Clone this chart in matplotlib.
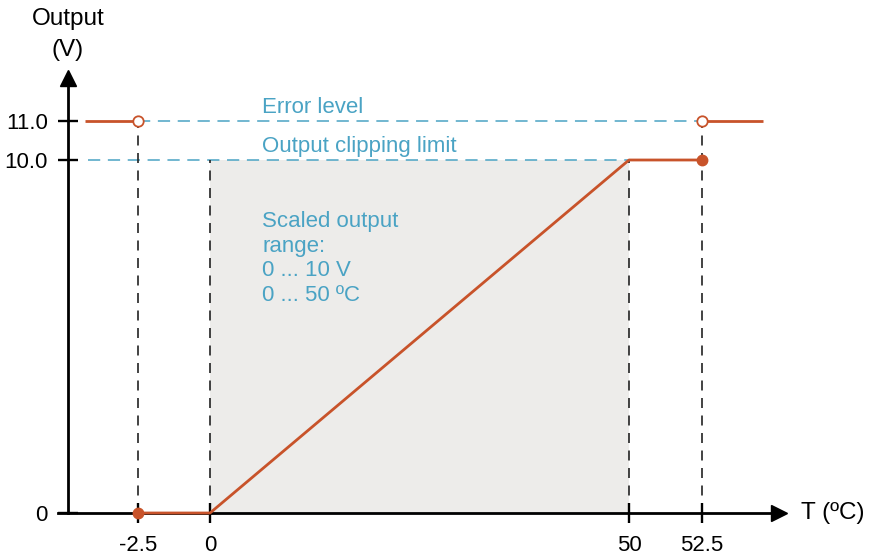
import numpy as np
import matplotlib.pyplot as plt

plt.rcParams.update({
    "font.family": "Liberation Sans",
    "font.size": 16,
})

T_ticks = [-2.5, 0, 50, 52.5]
T_tick_labels = ["-2.5", "0", "50", "52.5"]
V_ticks = [0, 10, 11]
V_tick_labels = ["0", "10.0", "11.0"]

# output characteristic (T in degC, output in V)
T_main = [-2.5, 0, 50, 52.5]
V_main = [0, 0, 10, 10]
T_err_left = [-4.35, -2.5]
T_err_right = [52.5, 54.6]
V_err = [11, 11]
T_scaled = [0, 50]
V_scaled_max = 10
V_error_level = 11
V_clip = 10

orange = "#C8532A"
blue = "#4AA3C4"
grey = "#EDECEA"

# schematic (non-uniform) axis: data value -> pixel position
x_knots_T = [-2.5 - 138 / 28.8, -2.5, 0, 50, 52.5, 52.5 + 173 / 29.2]
x_knots_px = [0, 138, 210, 629, 702, 875]
y_knots_V = [-44 / 35.3, 0, 10, 11, 11 + 121 / 39.0]
y_knots_px = [0, 44, 397, 436, 557]

def fwd_x(t):
    return np.interp(t, x_knots_T, x_knots_px)

def inv_x(p):
    return np.interp(p, x_knots_px, x_knots_T)

def fwd_y(v):
    return np.interp(v, y_knots_V, y_knots_px)

def inv_y(p):
    return np.interp(p, y_knots_px, y_knots_V)

def px_x(p):
    return float(inv_x(p))

def px_y(p):
    # p counted from the top of the picture
    return float(inv_y(557 - p))

fig = plt.figure(figsize=(8.75, 5.57), dpi=100)
ax = fig.add_axes([0, 0, 1, 1])
ax.set_xscale("function", functions=(fwd_x, inv_x))
ax.set_yscale("function", functions=(fwd_y, inv_y))
ax.set_xlim(x_knots_T[0], x_knots_T[-1])
ax.set_ylim(y_knots_V[0], y_knots_V[-1])
ax.patch.set_visible(False)

# axes with arrows
x_axis_pos = px_x(68)
for s in ["top", "right"]:
    ax.spines[s].set_visible(False)
ax.spines["left"].set_position(("data", x_axis_pos))
ax.spines["left"].set_bounds(0, px_y(80))
ax.spines["bottom"].set_position(("data", 0))
ax.spines["bottom"].set_bounds(px_x(58), px_x(776))
for s in ["left", "bottom"]:
    ax.spines[s].set_linewidth(2.0)
ax.plot([x_axis_pos], [px_y(78)], marker="^", ms=11.5, color="black", clip_on=False)
ax.plot([px_x(779)], [0], marker=">", ms=11.5, color="black", clip_on=False)

ax.set_xticks(T_ticks, labels=T_tick_labels)
ax.set_yticks(V_ticks, labels=V_tick_labels)
ax.tick_params(axis="x", direction="inout", length=15, width=1.7, pad=8.5, labelsize=16)
ax.tick_params(axis="y", direction="inout", length=15, width=1.7, pad=7, labelsize=16)

# scaled output range
ax.fill_between(T_scaled, 0, V_scaled_max, color=grey, lw=0, zorder=0)

# reference lines
ax.plot([T_main[0], T_main[-1]], [V_error_level, V_error_level], color=blue, lw=1.1,
        ls=(0, (8, 5)), zorder=1)
ax.plot([px_x(88), T_scaled[1]], [V_clip, V_clip], color=blue, lw=1.1,
        ls=(0, (8, 5)), zorder=1)
for t, top in [(-2.5, 11), (0, 10), (50, 10), (52.5, 11)]:
    ax.plot([t, t], [0, top], color="#222222", lw=1.2, ls=(0, (6, 4.5)), zorder=1)

# output characteristic
ax.plot(T_main, V_main, color=orange, lw=2, zorder=3, solid_capstyle="butt")
ax.plot(T_err_left, V_err, color=orange, lw=2, zorder=3, solid_capstyle="butt")
ax.plot(T_err_right, V_err, color=orange, lw=2, zorder=3, solid_capstyle="butt")
ax.plot([-2.5, 52.5], [0, 10], "o", color=orange, ms=7.5, zorder=4, clip_on=False)
ax.plot([-2.5, 52.5], [11, 11], "o", mfc="white", mec=orange, mew=1.3, ms=7.5, zorder=4)

# labels
ax.text(px_x(68), px_y(24.5), "Output", ha="center", va="baseline", fontsize=17.5)
ax.text(px_x(68), px_y(56), "(V)", ha="center", va="baseline", fontsize=17.5)
ax.text(px_x(801), px_y(519), "T (ºC)", ha="left", va="baseline", fontsize=17.5)
ax.text(px_x(262), px_y(113), "Error level", color=blue, va="baseline")
ax.text(px_x(262), px_y(152), "Output clipping limit", color=blue, va="baseline")
ax.text(px_x(262), px_y(211), "Scaled output\nrange:\n0 ... 10 V\n0 ... 50 ºC",
        color=blue, va="top", linespacing=1.22)

fig.savefig("out.png", dpi=100)
